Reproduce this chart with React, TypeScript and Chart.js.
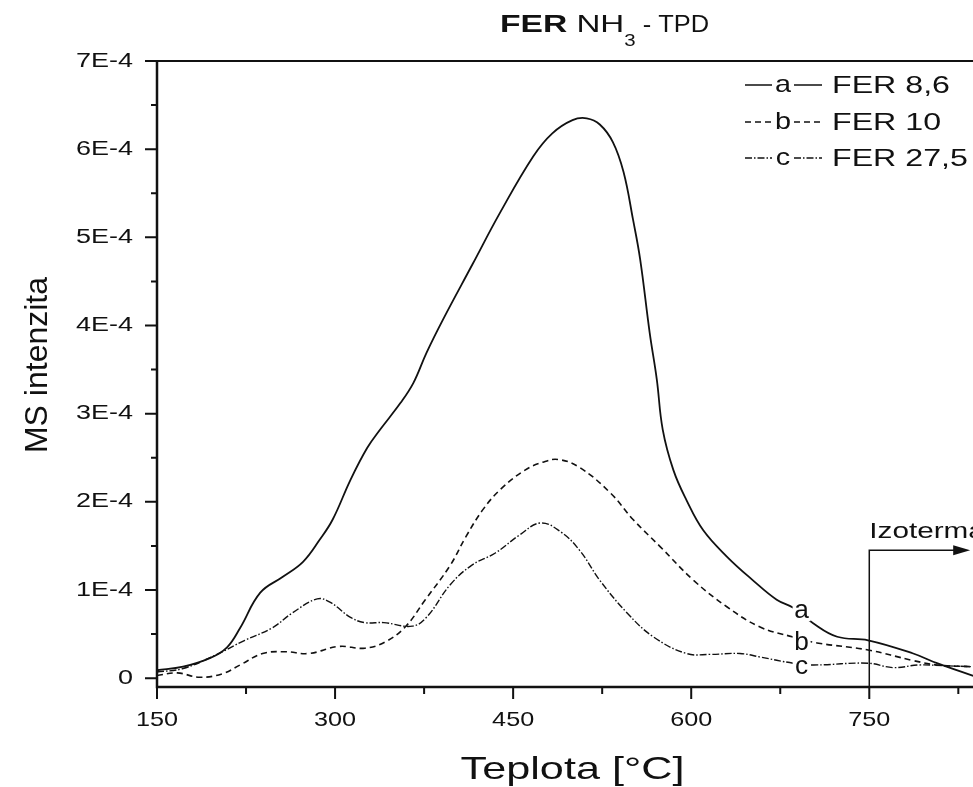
import React, { useEffect, useRef } from "react";
import { Chart, registerables } from "chart.js";

Chart.register(...registerables);

// ---- data (intensity in units of 1E-4) ----
const tempA = [150, 172, 195, 209, 220, 237, 256, 273, 287, 298, 313, 327, 338, 355, 366, 377, 391, 416, 439, 467, 483, 500, 512, 523, 534, 543, 551, 557, 565, 571, 576, 585, 596, 610, 630, 652, 672, 686, 703, 723, 749, 787, 807, 837, 850];
const intA = [0.09, 0.13, 0.23, 0.35, 0.57, 0.97, 1.15, 1.32, 1.57, 1.8, 2.25, 2.61, 2.82, 3.12, 3.35, 3.69, 4.07, 4.7, 5.28, 5.92, 6.18, 6.33, 6.35, 6.28, 6.08, 5.74, 5.2, 4.75, 3.92, 3.39, 2.82, 2.36, 2.02, 1.68, 1.38, 1.11, 0.89, 0.8, 0.62, 0.47, 0.43, 0.28, 0.17, 0.03, -0.02];

const tempB = [150, 167, 186, 205, 220, 239, 258, 278, 303, 325, 342, 359, 376, 397, 410, 425, 440, 460, 475, 488, 506, 532, 551, 574, 602, 630, 658, 685, 706, 749, 787, 807, 837, 850];
const intB = [0.03, 0.06, 0.01, 0.05, 0.15, 0.28, 0.3, 0.28, 0.36, 0.34, 0.41, 0.58, 0.89, 1.28, 1.6, 1.92, 2.15, 2.36, 2.45, 2.48, 2.39, 2.1, 1.8, 1.49, 1.11, 0.81, 0.58, 0.47, 0.4, 0.32, 0.2, 0.15, 0.13, 0.12];

const tempC = [150, 172, 199, 224, 247, 264, 285, 296, 313, 325, 341, 365, 377, 397, 415, 435, 455, 473, 490, 506, 523, 546, 568, 596, 616, 641, 658, 686, 703, 749, 770, 792, 815, 837, 850];
const intC = [0.07, 0.11, 0.26, 0.43, 0.57, 0.74, 0.9, 0.86, 0.69, 0.63, 0.63, 0.59, 0.69, 1.06, 1.28, 1.42, 1.62, 1.76, 1.66, 1.45, 1.11, 0.74, 0.47, 0.28, 0.27, 0.28, 0.24, 0.17, 0.15, 0.17, 0.12, 0.15, 0.14, 0.13, 0.12];

const seriesNames = ["FER 8,6", "FER 10", "FER 27,5"];
const seriesLetters = ["a", "b", "c"];
const letterTemp = [693, 693, 693];
const letterInt = [0.76, 0.4, 0.13];

const xMajorTicks = [150, 300, 450, 600, 750];
const xMinorTicks = [225, 375, 525, 675, 825];
const yMajorTicks = [0, 1, 2, 3, 4, 5, 6, 7];
const yMinorTicks = [0.5, 1.5, 2.5, 3.5, 4.5, 5.5, 6.5];

const isoTemp = 750;
const isoEndTemp = 835;
const isoLevel = 1.45;
const isoText = "Izoterma";
const xTitle = "Teplota [°C]";
const yTitle = "MS intenzita";

const FONT = "'Liberation Sans', Arial, sans-serif";
const INK = "#111";
const SX = 1.35; // horizontal stretch of the lettering in the original figure

const dashes: number[][] = [[], [6, 4], [7, 2, 1.5, 2]];

function yLabel(v: number): string {
  return v === 0 ? "0" : `${v}E-4`;
}

function stretchText(ctx: any, text: string, x: number, y: number, font: string, sx: number, align: string) {
  ctx.save();
  ctx.font = font;
  const w = ctx.measureText(text).width * sx;
  let x0 = x;
  if (align === "center") x0 = x - w / 2;
  else if (align === "right") x0 = x - w;
  ctx.translate(x0, y);
  ctx.scale(sx, 1);
  ctx.textAlign = "left";
  ctx.fillText(text, 0, 0);
  ctx.restore();
  return w;
}

const decorPlugin = {
  id: "decor",
  afterDraw(chart: any) {
    const ctx = chart.ctx;
    const { left, right, top, bottom } = chart.chartArea;
    const xs = chart.scales.x;
    const ys = chart.scales.y;
    ctx.save();
    ctx.strokeStyle = INK;
    ctx.fillStyle = INK;

    // frame
    ctx.lineWidth = 2;
    ctx.strokeRect(left, top, right - left, bottom - top);
    ctx.lineWidth = 2.5;
    ctx.beginPath();
    ctx.moveTo(left, top);
    ctx.lineTo(left, bottom);
    ctx.lineTo(right, bottom);
    ctx.stroke();

    // tick marks
    ctx.lineWidth = 2;
    ctx.beginPath();
    xMajorTicks.forEach((v) => {
      const p = xs.getPixelForValue(v);
      ctx.moveTo(p, bottom);
      ctx.lineTo(p, bottom + 12);
    });
    xMinorTicks.forEach((v) => {
      const p = xs.getPixelForValue(v);
      ctx.moveTo(p, bottom);
      ctx.lineTo(p, bottom + 7);
    });
    yMajorTicks.forEach((v) => {
      const p = ys.getPixelForValue(v);
      ctx.moveTo(left, p);
      ctx.lineTo(left - 12, p);
    });
    yMinorTicks.forEach((v) => {
      const p = ys.getPixelForValue(v);
      ctx.moveTo(left, p);
      ctx.lineTo(left - 6, p);
    });
    ctx.stroke();

    // tick labels
    ctx.textBaseline = "middle";
    const tickFont = `20px ${FONT}`;
    xMajorTicks.forEach((v) => {
      stretchText(ctx, String(v), xs.getPixelForValue(v), bottom + 33, `21px ${FONT}`, 1.2, "center");
    });
    yMajorTicks.forEach((v) => {
      stretchText(ctx, yLabel(v), left - 24, ys.getPixelForValue(v), tickFont, SX, "right");
    });

    // axis titles
    stretchText(ctx, xTitle, (left + right) / 2, bottom + 83, `32px ${FONT}`, SX, "center");
    ctx.save();
    ctx.translate(38, (top + bottom) / 2 - 9);
    ctx.rotate(-Math.PI / 2);
    ctx.font = `32px ${FONT}`;
    ctx.textAlign = "center";
    ctx.textBaseline = "middle";
    ctx.fillText(yTitle, 0, 0);
    ctx.restore();

    // isotherm marker
    const ix = xs.getPixelForValue(isoTemp);
    const iy = ys.getPixelForValue(isoLevel);
    const ie = xs.getPixelForValue(isoEndTemp);
    ctx.lineWidth = 1.5;
    ctx.beginPath();
    ctx.moveTo(ix, bottom);
    ctx.lineTo(ix, iy);
    ctx.lineTo(ie - 14, iy);
    ctx.stroke();
    ctx.beginPath();
    ctx.moveTo(ie, iy);
    ctx.lineTo(ie - 17, iy - 5);
    ctx.lineTo(ie - 17, iy + 5);
    ctx.closePath();
    ctx.fill();
    ctx.textBaseline = "alphabetic";
    stretchText(ctx, isoText, ix, iy - 12, `22px ${FONT}`, SX, "left");

    // curve letters
    ctx.textBaseline = "middle";
    seriesLetters.forEach((l, i) => {
      const px = xs.getPixelForValue(letterTemp[i]);
      const py = ys.getPixelForValue(letterInt[i]);
      ctx.fillStyle = "#fff";
      ctx.fillRect(px - 9, py - 10, 18, 20);
      ctx.fillStyle = INK;
      stretchText(ctx, l, px, py, `25px ${FONT}`, 1.05, "center");
    });

    // legend
    const legX = right - 243;
    const rowY = [top + 24, top + 61, top + 97];
    seriesNames.forEach((name, i) => {
      const y = rowY[i];
      ctx.lineWidth = 1.6;
      ctx.setLineDash(dashes[i]);
      ctx.beginPath();
      ctx.moveTo(legX, y);
      ctx.lineTo(legX + 27, y);
      ctx.moveTo(legX + 49, y);
      ctx.lineTo(legX + 77, y);
      ctx.stroke();
      ctx.setLineDash([]);
      ctx.textBaseline = "middle";
      stretchText(ctx, seriesLetters[i], legX + 38, y, `24px ${FONT}`, 1.2, "center");
      stretchText(ctx, name, legX + 87, y + 1, `24px ${FONT}`, 1.34, "left");
    });

    // title: FER NH3 - TPD
    ctx.textBaseline = "alphabetic";
    let x0 = left + 343;
    const by = 32;
    x0 += stretchText(ctx, "FER", x0, by, `bold 24px ${FONT}`, 1.4, "left");
    x0 += stretchText(ctx, " NH", x0, by, `24px ${FONT}`, 1.38, "left");
    x0 += stretchText(ctx, "3", x0, by + 14, `17px ${FONT}`, 1.2, "left");
    stretchText(ctx, " - TPD", x0, by, `24px ${FONT}`, 1.06, "left");

    ctx.restore();
  },
};

export default function App() {
  const ref = useRef<HTMLCanvasElement | null>(null);

  useEffect(() => {
    if (!ref.current) return;
    const mk = (t: number[], v: number[]) => t.map((x, i) => ({ x, y: v[i] }));
    const chart = new Chart(ref.current, {
      type: "line",
      data: {
        datasets: [
          { label: seriesNames[0], data: mk(tempA, intA), borderColor: INK, borderWidth: 1.8, borderDash: dashes[0], pointRadius: 0, tension: 0.4, fill: false },
          { label: seriesNames[1], data: mk(tempB, intB), borderColor: INK, borderWidth: 1.6, borderDash: dashes[1], pointRadius: 0, tension: 0.4, fill: false },
          { label: seriesNames[2], data: mk(tempC, intC), borderColor: INK, borderWidth: 1.4, borderDash: dashes[2], pointRadius: 0, tension: 0.4, fill: false },
        ],
      },
      options: {
        animation: false,
        responsive: false,
        maintainAspectRatio: false,
        layout: { padding: { top: 61, right: 12, left: 0, bottom: 0 } },
        plugins: { legend: { display: false }, tooltip: { enabled: false }, title: { display: false } },
        scales: {
          x: {
            type: "linear",
            min: 150,
            max: 850,
            afterBuildTicks: (s: any) => {
              s.ticks = xMajorTicks.map((v) => ({ value: v }));
            },
            ticks: { display: false },
            grid: { display: false, drawTicks: false },
            border: { display: false },
            title: { display: false },
            afterFit: (s: any) => {
              s.height = 100;
            },
          },
          y: {
            type: "linear",
            min: -0.1,
            max: 7,
            afterBuildTicks: (s: any) => {
              s.ticks = yMajorTicks.map((v) => ({ value: v }));
            },
            ticks: { display: false },
            grid: { display: false, drawTicks: false },
            border: { display: false },
            title: { display: false },
            afterFit: (s: any) => {
              s.width = 157;
            },
          },
        },
      },
      plugins: [decorPlugin],
    });
    return () => chart.destroy();
  }, []);

  return (
    <div style={{ position: "absolute", left: 0, top: 0, width: 973, height: 787, overflow: "hidden", background: "#fff" }}>
      <canvas ref={ref} width={1000} height={787} style={{ display: "block" }} />
    </div>
  );
}
